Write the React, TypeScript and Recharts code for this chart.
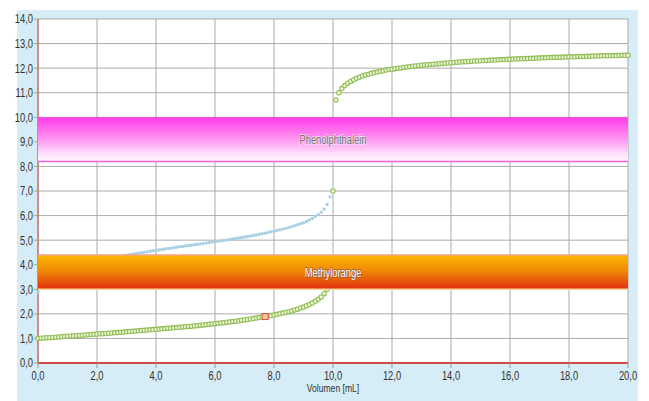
import {
  CartesianGrid,
  ReferenceArea,
  ReferenceDot,
  ReferenceLine,
  Scatter,
  ScatterChart,
  XAxis,
  YAxis,
} from 'recharts';

// pH readings every 0.1 mL of titrant, from 0,0 to 20,0 mL
const phStrongAcid = [
  1.0, 1.01, 1.02, 1.03, 1.03, 1.04, 1.05, 1.06, 1.07, 1.08,
  1.09, 1.1, 1.1, 1.11, 1.12, 1.13, 1.14, 1.15, 1.16, 1.17,
  1.18, 1.19, 1.19, 1.2, 1.21, 1.22, 1.23, 1.24, 1.25, 1.26,
  1.27, 1.28, 1.29, 1.3, 1.31, 1.32, 1.33, 1.34, 1.35, 1.36,
  1.37, 1.38, 1.39, 1.4, 1.41, 1.42, 1.43, 1.44, 1.45, 1.47,
  1.48, 1.49, 1.5, 1.51, 1.52, 1.54, 1.55, 1.56, 1.58, 1.59,
  1.6, 1.62, 1.63, 1.64, 1.66, 1.67, 1.69, 1.7, 1.72, 1.74,
  1.75, 1.77, 1.79, 1.81, 1.83, 1.85, 1.87, 1.89, 1.91, 1.93,
  1.95, 1.98, 2.0, 2.03, 2.06, 2.09, 2.12, 2.16, 2.19, 2.24,
  2.28, 2.33, 2.38, 2.44, 2.51, 2.59, 2.69, 2.82, 3.0, 3.3,
  7.0, 10.7, 11.0, 11.17, 11.29, 11.39, 11.46, 11.53, 11.59, 11.63,
  11.68, 11.72, 11.75, 11.79, 11.82, 11.84, 11.87, 11.89, 11.92, 11.94,
  11.96, 11.98, 12.0, 12.01, 12.03, 12.05, 12.06, 12.08, 12.09, 12.1,
  12.12, 12.13, 12.14, 12.15, 12.16, 12.17, 12.18, 12.19, 12.2, 12.21,
  12.22, 12.23, 12.24, 12.25, 12.26, 12.26, 12.27, 12.28, 12.29, 12.29,
  12.3, 12.31, 12.31, 12.32, 12.33, 12.33, 12.34, 12.35, 12.35, 12.36,
  12.36, 12.37, 12.37, 12.38, 12.38, 12.39, 12.39, 12.4, 12.4, 12.41,
  12.41, 12.42, 12.42, 12.43, 12.43, 12.44, 12.44, 12.44, 12.45, 12.45,
  12.46, 12.46, 12.46, 12.47, 12.47, 12.47, 12.48, 12.48, 12.49, 12.49,
  12.49, 12.5, 12.5, 12.5, 12.5, 12.51, 12.51, 12.51, 12.52, 12.52,
  12.52,
];

// weak acid curve, 0,0 to 9,9 mL
const phWeakAcid = [
  2.88, 3.05, 3.19, 3.32, 3.42, 3.51, 3.58, 3.65, 3.7, 3.76,
  3.81, 3.85, 3.89, 3.93, 3.97, 4.01, 4.04, 4.07, 4.1, 4.13,
  4.16, 4.18, 4.21, 4.24, 4.26, 4.28, 4.31, 4.33, 4.35, 4.37,
  4.39, 4.41, 4.43, 4.45, 4.47, 4.49, 4.51, 4.53, 4.55, 4.57,
  4.58, 4.6, 4.62, 4.64, 4.66, 4.67, 4.69, 4.71, 4.73, 4.74,
  4.76, 4.78, 4.79, 4.81, 4.83, 4.85, 4.86, 4.88, 4.9, 4.92,
  4.94, 4.95, 4.97, 4.99, 5.01, 5.03, 5.05, 5.07, 5.09, 5.11,
  5.13, 5.15, 5.17, 5.19, 5.21, 5.24, 5.26, 5.28, 5.31, 5.34,
  5.36, 5.39, 5.42, 5.45, 5.48, 5.51, 5.55, 5.59, 5.63, 5.67,
  5.71, 5.76, 5.82, 5.88, 5.96, 6.04, 6.14, 6.27, 6.45, 6.76,
];

const STEP = 0.1;
const xTicks = [0, 2, 4, 6, 8, 10, 12, 14, 16, 18, 20];
const yTicks = [0, 1, 2, 3, 4, 5, 6, 7, 8, 9, 10, 11, 12, 13, 14];

// indicator ranges (pH)
const phenolphthalein = { name: 'Phenolphthalein', from: 8.2, to: 10.0 };
const methylorange = { name: 'Methylorange', from: 3.0, to: 4.4 };

const markedIndex = 77;

const strongData = phStrongAcid.map((ph, i) => ({ v: i * STEP, ph }));
const weakData = phWeakAcid.map((ph, i) => ({ v: i * STEP, ph }));

const FONT = "'Liberation Sans', Arial, sans-serif";
const SQUEEZE = 0.78; // horizontal squeeze to get a narrow face

const fmt = (n: number) => n.toFixed(1).replace('.', ',');

// text drawn squeezed horizontally around its anchor point
const NarrowText = ({ x, y, anchor, size, fill, children, halo }: any) => (
  <g transform={`translate(${x},${y}) scale(${SQUEEZE},1)`}>
    <text
      x={0}
      y={0}
      textAnchor={anchor}
      dominantBaseline="central"
      fontFamily={FONT}
      fontSize={size}
      fill={fill}
      stroke={halo}
      strokeWidth={halo ? 1.3 : 0}
      paintOrder="stroke"
    >
      {children}
    </text>
  </g>
);

const XTick = ({ x, y, payload }: any) => (
  <NarrowText x={x} y={y + 6} anchor="middle" size={12} fill="#333">
    {fmt(payload.value)}
  </NarrowText>
);

const YTick = ({ x, y, payload }: any) => (
  <NarrowText x={x} y={y} anchor="end" size={12} fill="#333">
    {fmt(payload.value)}
  </NarrowText>
);

const AxisTitle = ({ viewBox }: any) => {
  if (!viewBox) return null;
  return (
    <NarrowText x={viewBox.x + viewBox.width / 2} y={viewBox.y + 25} anchor="middle" size={11} fill="#333">
      Volumen [mL]
    </NarrowText>
  );
};

const GreenDot = (p: any) => (
  <circle cx={p.cx} cy={p.cy} r={2.2} fill="#eef6dc" stroke="#92bd55" strokeWidth={1.1} />
);

const BlueDot = (p: any) => <circle cx={p.cx} cy={p.cy} r={1.7} fill="#a6d0e3" />;

const BandLabel = ({ viewBox, text, fill, halo }: any) => {
  if (!viewBox) return null;
  return (
    <NarrowText
      x={viewBox.x + viewBox.width / 2}
      y={viewBox.y + viewBox.height / 2}
      anchor="middle"
      size={12}
      fill={fill}
      halo={halo}
    >
      {text}
    </NarrowText>
  );
};

const App = () => {
  return (
    <div style={{ position: 'absolute', left: 0, top: 0, width: 649, height: 401, background: '#fff' }}>
      <div style={{ position: 'absolute', left: 17, top: 10, width: 621, height: 391, background: '#d6ecf7' }} />
      <svg width={0} height={0} style={{ position: 'absolute' }}>
        <defs>
          <linearGradient id="gradPhenol" x1="0" y1="0" x2="0" y2="1">
            <stop offset="0%" stopColor="#ff3ae8" />
            <stop offset="45%" stopColor="#ff8cf0" />
            <stop offset="85%" stopColor="#ffe4fb" />
            <stop offset="100%" stopColor="#fff6fe" />
          </linearGradient>
          <linearGradient id="gradMethyl" x1="0" y1="0" x2="0" y2="1">
            <stop offset="0%" stopColor="#f9b800" />
            <stop offset="45%" stopColor="#f28a06" />
            <stop offset="100%" stopColor="#df2e10" />
          </linearGradient>
        </defs>
      </svg>
      <div style={{ position: 'absolute', left: 0, top: 0 }}>
        <ScatterChart width={649} height={401} margin={{ top: 19, right: 21, bottom: 8, left: 0 }}>
          <CartesianGrid stroke="#ababab" fill="#ffffff" fillOpacity={1} />
          <XAxis
            type="number"
            dataKey="v"
            domain={[0, 20]}
            ticks={xTicks}
            height={30}
            tickSize={5}
            tickMargin={2}
            axisLine={{ stroke: '#d24a4a', strokeWidth: 2 }}
            tickLine={{ stroke: '#999' }}
            tick={<XTick />}
            label={<AxisTitle />}
          />
          <YAxis
            type="number"
            dataKey="ph"
            domain={[0, 14]}
            ticks={yTicks}
            width={38}
            tickSize={4}
            tickMargin={1}
            axisLine={{ stroke: '#d24a4a' }}
            tickLine={{ stroke: '#8cbf4a' }}
            tick={<YTick />}
          />
          <Scatter data={weakData} shape={BlueDot} isAnimationActive={false} />
          <Scatter data={strongData} shape={GreenDot} isAnimationActive={false} />
          <ReferenceArea
            y1={phenolphthalein.from}
            y2={phenolphthalein.to}
            fill="url(#gradPhenol)"
            fillOpacity={1}
            zIndex={700}
            label={<BandLabel text={phenolphthalein.name} fill="#7a6a7a" halo="#f4e4f2" />}
          />
          <ReferenceArea
            y1={methylorange.from}
            y2={methylorange.to}
            fill="url(#gradMethyl)"
            fillOpacity={1}
            zIndex={700}
            label={<BandLabel text={methylorange.name} fill="#ffffff" halo="#9a5a34" />}
          />
          <ReferenceLine y={phenolphthalein.from} stroke="#f064e0" strokeWidth={1.5} zIndex={710} />
          <ReferenceLine y={methylorange.to} stroke="#f2a28a" strokeWidth={1.5} zIndex={710} />
          <ReferenceLine y={methylorange.from} stroke="#fcd79a" strokeWidth={1.5} zIndex={710} />
          <ReferenceDot
            x={strongData[markedIndex].v}
            y={strongData[markedIndex].ph}
            r={3}
            zIndex={800}
            shape={(p: any) => (
              <rect x={p.cx - 3} y={p.cy - 3} width={6} height={6} fill="#f3c7a6" stroke="#d2523e" strokeWidth={1} />
            )}
          />
        </ScatterChart>
      </div>
    </div>
  );
};

export default App;
